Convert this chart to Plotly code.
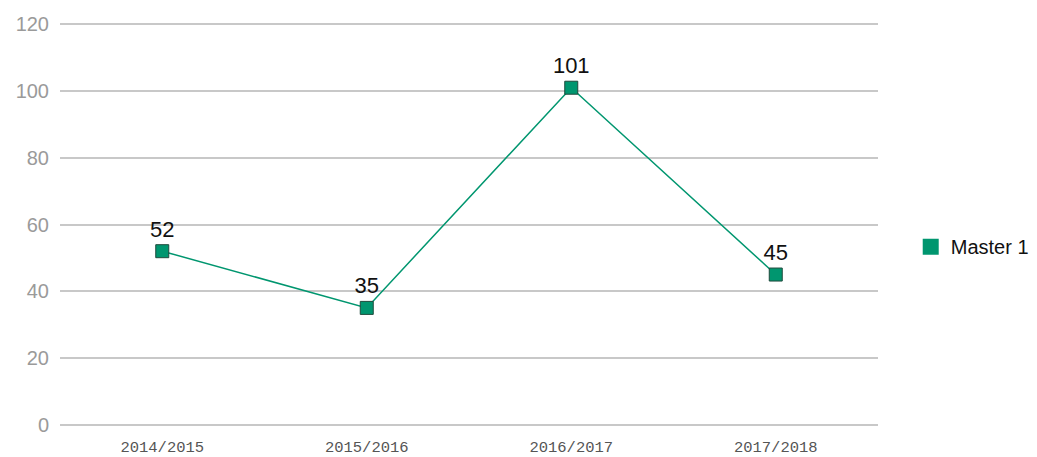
import plotly.graph_objects as go

categories = ["2014/2015", "2015/2016", "2016/2017", "2017/2018"]
master1 = [52, 35, 101, 45]
series_name = "Master 1"
y_ticks = [0, 20, 40, 60, 80, 100, 120]

color = "#00966f"

fig = go.Figure()
fig.add_trace(go.Scatter(
    x=categories, y=master1, mode="lines+markers+text",
    text=[str(v) for v in master1], textposition="top center",
    textfont=dict(family="Liberation Sans, Arial", size=22, color="#111"),
    line=dict(color=color, width=1.5),
    marker=dict(symbol="square", size=13, color=color, line=dict(color="#1f4a3c", width=1)),
    showlegend=False, cliponaxis=False,
))
fig.add_trace(go.Scatter(
    x=[None], y=[None], mode="markers", name=series_name,
    marker=dict(symbol="square", size=18, color=color),
))

fig.update_layout(
    width=1029, height=449,
    margin=dict(l=52, r=159, t=15, b=31, autoexpand=False),
    paper_bgcolor="white", plot_bgcolor="white",
    xaxis=dict(type="category", range=[-0.5, 3.5], showgrid=False, showline=False, automargin=False,
               ticks="", ticklabelstandoff=9,
               tickfont=dict(family="Liberation Mono, Courier New", size=15.5, color="#555")),
    yaxis=dict(range=[-0.4, 120.4], tickvals=y_ticks, showgrid=True, gridcolor="#c8c8c8", gridwidth=1.5,
               zeroline=False, showline=False, ticks="", ticklabelstandoff=10, automargin=False,
               tickfont=dict(family="Liberation Sans, Arial", size=20, color="#9a9a9a")),
    legend=dict(x=1.04, y=0.445, xanchor="left", yanchor="middle",
                font=dict(family="Liberation Sans, Arial", size=20, color="#111"),
                itemsizing="trace"),
    showlegend=True,
)
fig.write_html("out.html")
